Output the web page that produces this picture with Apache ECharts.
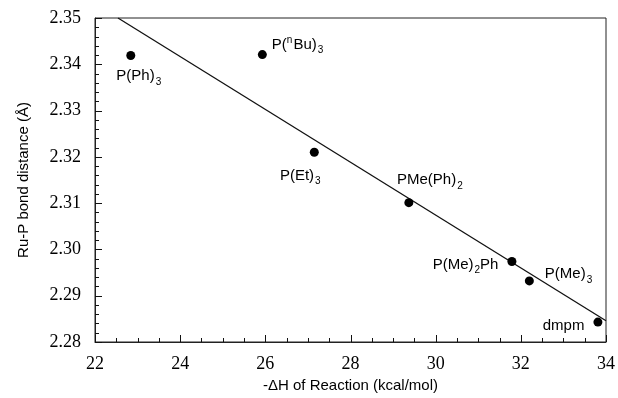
<!DOCTYPE html>
<html><head><meta charset="utf-8">
<script src="https://cdn.jsdelivr.net/npm/echarts@6/dist/echarts.min.js"></script>
<style>html,body{margin:0;padding:0;background:#fff}#c{width:618px;height:398px}</style>
</head><body><div id="c"></div>
<script>
// Data
const ligands = ['P(Ph){s|3}', 'P({p|n}Bu){s|3}', 'P(Et){s|3}', 'PMe(Ph){s|2}', 'P(Me){s|2}Ph', 'P(Me){s|3}', 'dmpm'];
const deltaH = [22.84, 25.93, 27.15, 29.37, 31.79, 32.20, 33.81];
const ruP = [2.3419, 2.3421, 2.3210, 2.3101, 2.2974, 2.2932, 2.2843];
const fitX = [22.54, 34.0];
const fitY = [2.3500, 2.2846];
const xTicks = [22, 24, 26, 28, 30, 32, 34];
const yTicks = [2.28, 2.29, 2.30, 2.31, 2.32, 2.33, 2.34, 2.35];

// label placement (styling)
const labelPlace = [
  {position: 'bottom', offset: [8, 0]},
  {position: 'right', offset: [0, -10]},
  {position: 'bottom', offset: [-14, 3]},
  {position: 'top', offset: [21, -2]},
  {position: 'left', offset: [-4, 3]},
  {position: 'right', offset: [6, -7]},
  {position: 'left', offset: [-4, 4]}
];

const SANS = 'Liberation Sans';
const SERIF = 'Liberation Serif';
const rich = {
  s: {fontSize: 10, fontFamily: SANS, color: '#000', padding: [12, 0, 0, 1]},
  p: {fontSize: 10, fontFamily: SANS, color: '#000', padding: [0, 1, 8, 0]}
};

const scatterData = deltaH.map((x, i) => ({
  value: [x, ruP[i]],
  label: Object.assign({show: true, formatter: ligands[i], fontSize: 15, fontFamily: SANS, color: '#000', rich: rich}, labelPlace[i])
}));

const xMin = xTicks[0], xMax = xTicks[xTicks.length - 1];
const yMin = yTicks[0], yMax = yTicks[yTicks.length - 1];

// tick marks (major + minor) placed through the axes' scales
const MAJOR = 7, MINOR = 4;
const xTickData = [];
for (let i = 0; i < xTicks.length; i++) {
  xTickData.push([xTicks[i], yMin, MAJOR]);
  if (i < xTicks.length - 1) {
    const step = (xTicks[i + 1] - xTicks[i]) / 4;
    for (let k = 1; k < 4; k++) xTickData.push([xTicks[i] + k * step, yMin, MINOR]);
  }
}
const yTickData = [];
for (let i = 0; i < yTicks.length; i++) {
  yTickData.push([xMin, yTicks[i], MAJOR]);
  if (i < yTicks.length - 1) {
    const step = (yTicks[i + 1] - yTicks[i]) / 5;
    for (let k = 1; k < 5; k++) yTickData.push([xMin, yTicks[i] + k * step, MINOR]);
  }
}
function tickRenderer(horizontalAxis) {
  return function (params, api) {
    const p = api.coord([api.value(0), api.value(1)]);
    const len = api.value(2);
    let shape;
    if (horizontalAxis) {
      const x = Math.round(p[0]) + 0.5;
      shape = {x1: x, y1: p[1], x2: x, y2: p[1] - len};
    } else {
      const y = Math.round(p[1]) + 0.5;
      shape = {x1: p[0], y1: y, x2: p[0] + len, y2: y};
    }
    return {type: 'line', shape: shape, style: {stroke: '#111', lineWidth: 1}};
  };
}

const chart = echarts.init(document.getElementById('c'));
chart.setOption({
  animation: false,
  grid: {left: 95, right: 10, top: 18, bottom: 52, show: true, borderColor: '#222', borderWidth: 1},
  xAxis: {
    type: 'value', min: xMin, max: xMax, interval: 2,
    name: '-ΔH of Reaction (kcal/mol)', nameLocation: 'middle', nameGap: 36,
    nameTextStyle: {fontFamily: SANS, fontSize: 15, color: '#000'},
    axisLine: {show: true, lineStyle: {color: '#222'}},
    axisTick: {show: false},
    splitLine: {show: false},
    axisLabel: {fontFamily: SERIF, fontSize: 18, color: '#000', margin: 13}
  },
  yAxis: {
    type: 'value', min: yMin, max: yMax, interval: 0.01,
    name: 'Ru-P bond distance (Å)', nameLocation: 'middle', nameGap: 64,
    nameTextStyle: {fontFamily: SANS, fontSize: 15, color: '#000'},
    axisLine: {show: true, lineStyle: {color: '#222'}},
    axisTick: {show: false},
    splitLine: {show: false},
    axisLabel: {fontFamily: SERIF, fontSize: 18, color: '#000', margin: 14,
      formatter: v => v.toFixed(2)}
  },
  series: [
    {type: 'custom', data: xTickData, renderItem: tickRenderer(true), clip: false, silent: true, z: 1},
    {type: 'custom', data: yTickData, renderItem: tickRenderer(false), clip: false, silent: true, z: 1},
    {
      type: 'line', data: fitX.map((x, i) => [x, fitY[i]]), showSymbol: false, symbol: 'none',
      lineStyle: {color: '#111', width: 1.3}, silent: true, z: 2
    },
    {
      type: 'scatter', data: scatterData, symbol: 'circle', symbolSize: 9,
      itemStyle: {color: '#000', opacity: 1}, z: 3
    }
  ]
});
</script></body></html>
